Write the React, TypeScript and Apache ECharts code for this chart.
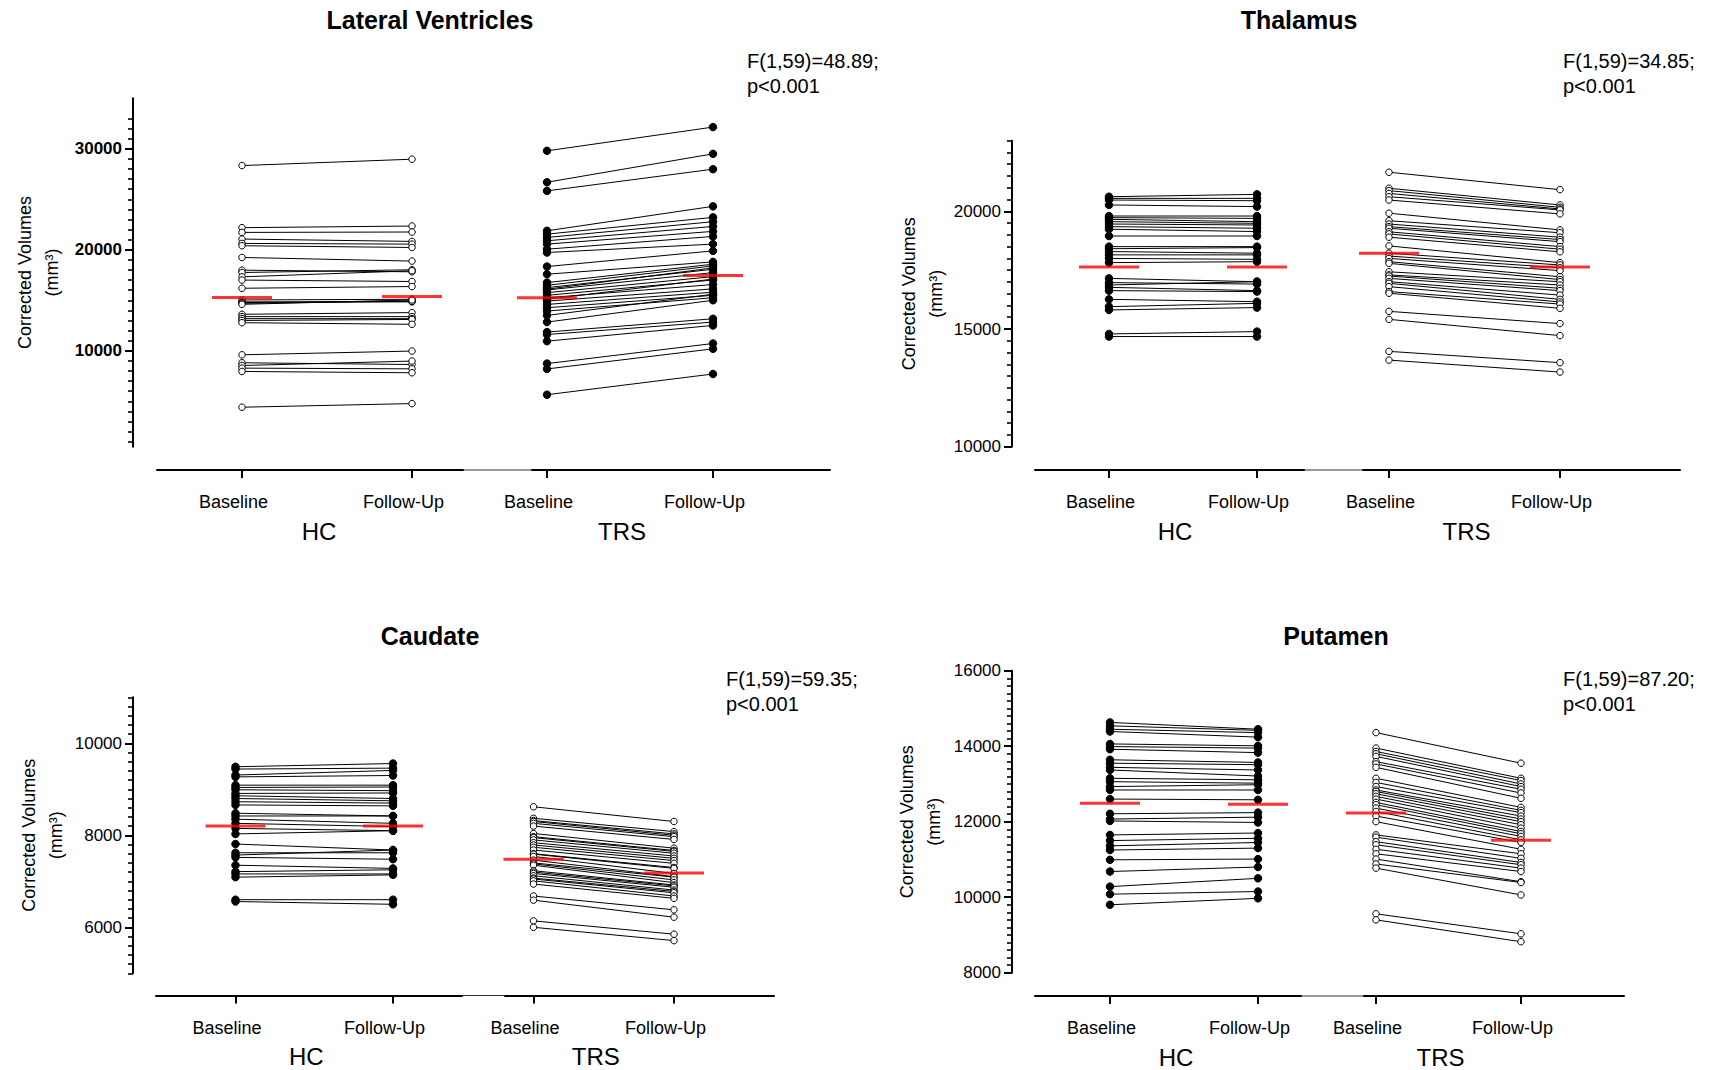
import React, { useEffect, useRef } from "react";
import * as echarts from "echarts";

const FONT = "'Liberation Sans', Arial, Helvetica, sans-serif";

const GROUPS = ["HC", "TRS"];
const TIMEPOINTS = ["Baseline", "Follow-Up"];
const Y_NAME = "Corrected Volumes\n(mm³)";

// ---------- Lateral Ventricles ----------
const LV_HC_BASE = [28340, 22190, 21720, 21060, 20630, 20400, 19240, 17980, 17750, 17320, 17000, 16190, 15030, 14840, 14770, 14700, 14600, 13610, 13380, 13180, 13000, 12780, 9600, 8810, 8540, 8280, 7950, 4410];
const LV_HC_FOLLOW = [28970, 22350, 21760, 20830, 20560, 20230, 18880, 17820, 18020, 17920, 16860, 16360, 15100, 14840, 14930, 14900, 15030, 13780, 13380, 13180, 13100, 12620, 9970, 8640, 8980, 8210, 7820, 4770];
const LV_TRS_BASE = [29800, 26690, 25830, 21880, 21550, 21220, 20890, 20560, 20060, 19730, 18340, 17580, 16750, 16480, 16250, 16100, 16020, 15750, 15490, 15250, 15100, 14920, 14590, 14260, 13930, 13500, 12840, 11850, 11610, 10950, 8730, 8200, 5650];
const LV_TRS_FOLLOW = [32150, 29500, 27980, 24300, 23210, 22780, 22310, 21820, 21320, 20560, 19890, 18800, 18570, 18400, 18070, 18200, 17740, 17340, 17010, 16560, 17100, 16130, 15800, 15490, 15250, 15600, 15000, 13170, 12840, 12510, 10720, 10190, 7700];
const LV_HC_MEAN = [15266, 15365];
const LV_TRS_MEAN = [15259, 17445];
const LV_TICKS = [10000, 20000, 30000];

// ---------- Thalamus ----------
const TH_HC_BASE = [20620, 20550, 20480, 20270, 19800, 19730, 19660, 19560, 19460, 19350, 19240, 18950, 18500, 18410, 18290, 18150, 18000, 17820, 17150, 16970, 16870, 16770, 16630, 16260, 15950, 15810, 14790, 14680];
const TH_HC_FOLLOW = [20720, 20550, 20450, 20200, 19800, 19700, 19560, 19490, 19420, 19280, 19140, 18950, 18500, 18460, 18220, 18150, 17960, 17860, 17010, 16910, 17010, 16630, 16590, 16160, 16090, 15910, 14890, 14680];
const TH_TRS_BASE = [21660, 20980, 20880, 20760, 20620, 20480, 19920, 19600, 19460, 19350, 19280, 19130, 19040, 18900, 18530, 18220, 18100, 18000, 17860, 17790, 17430, 17300, 17250, 17150, 17010, 16940, 16800, 16590, 16520, 15750, 15410, 14050, 13680];
const TH_TRS_FOLLOW = [20920, 20270, 20170, 20100, 20060, 19890, 19210, 19090, 18900, 18800, 18710, 18500, 18390, 18280, 17820, 17720, 17600, 17480, 17220, 17100, 17010, 16870, 16730, 16630, 16440, 16260, 16150, 16060, 15880, 15230, 14720, 13570, 13170];
const TH_HC_MEAN = [17635, 17635];
const TH_TRS_MEAN = [18216, 17634];
const TH_TICKS = [10000, 15000, 20000];

// ---------- Caudate ----------
const CA_HC_BASE = [9490, 9440, 9310, 9270, 9090, 9040, 8990, 8910, 8860, 8800, 8730, 8660, 8480, 8420, 8350, 8260, 8150, 8030, 7810, 7620, 7570, 7520, 7350, 7210, 7160, 7090, 6600, 6560];
const CA_HC_FOLLOW = [9560, 9460, 9410, 9300, 9090, 9050, 8970, 8920, 8800, 8750, 8700, 8640, 8420, 8420, 8260, 8190, 8100, 8100, 7680, 7620, 7680, 7480, 7280, 7250, 7160, 7140, 6600, 6500];
const CA_TRS_BASE = [8620, 8370, 8320, 8300, 8260, 8200, 8040, 7970, 7950, 7900, 7840, 7790, 7740, 7680, 7600, 7590, 7540, 7460, 7400, 7380, 7350, 7230, 7200, 7170, 7120, 7070, 7050, 7010, 6940, 6680, 6590, 6140, 6000];
const CA_TRS_FOLLOW = [8300, 8080, 8030, 8000, 7970, 7910, 7720, 7670, 7650, 7610, 7550, 7500, 7450, 7390, 7300, 7280, 7170, 7100, 7090, 7030, 6970, 6920, 6900, 6870, 6810, 6780, 6750, 6680, 6630, 6380, 6220, 5850, 5710];
const CA_HC_MEAN = [8203, 8203];
const CA_TRS_MEAN = [7477, 7180];
const CA_TICKS = [6000, 8000, 10000];

// ---------- Putamen ----------
const PU_HC_BASE = [14630, 14540, 14450, 14390, 14060, 13990, 13920, 13640, 13550, 13440, 13370, 13150, 13060, 12930, 12840, 12600, 12210, 12070, 12020, 11650, 11500, 11360, 11250, 10990, 10680, 10280, 10080, 9800];
const PU_HC_FOLLOW = [14450, 14420, 14360, 14240, 14010, 13950, 13830, 13570, 13510, 13370, 13210, 13110, 13020, 12980, 12840, 12580, 12240, 12120, 11980, 11700, 11560, 11450, 11300, 11010, 10800, 10500, 10150, 9970];
const PU_TRS_BASE = [14360, 13950, 13860, 13800, 13730, 13590, 13530, 13440, 13150, 13040, 12930, 12840, 12800, 12740, 12670, 12600, 12510, 12450, 12360, 12270, 12150, 12000, 11650, 11590, 11470, 11390, 11270, 11150, 11010, 10880, 10770, 9560, 9400];
const PU_TRS_FOLLOW = [13550, 13150, 13090, 13000, 12930, 12860, 12760, 12620, 12380, 12300, 12240, 12150, 12070, 12000, 11920, 11830, 11740, 11680, 11610, 11520, 11450, 11270, 11150, 11030, 10920, 10860, 10770, 10680, 10410, 10390, 10060, 9030, 8820];
const PU_HC_MEAN = [12490, 12464];
const PU_TRS_MEAN = [12233, 11510];
const PU_TICKS = [8000, 10000, 12000, 14000, 16000];

const TITLES = ["Lateral Ventricles", "Thalamus", "Caudate", "Putamen"];
const STATS = ["F(1,59)=48.89;", "F(1,59)=34.85;", "F(1,59)=59.35;", "F(1,59)=87.20;"];
const P_TEXT = "p<0.001";

// layout (pixels) for each panel
const PANELS = [
  {
    title: TITLES[0], stat: STATS[0], titleX: 430, titleY: 7, statX: 747, statY: 48,
    yMin: 500, yMax: 35000, ticks: LV_TICKS, minorStep: 1000, minorFrom: 1000, minorTo: 33000, bold: true,
    top: 98.3, bottom: 446.7, xLineY: 470, yAxisX: 133, nameGap: 68,
    hc: { s: 157, e: 463, t0: 242, t1: 412, base: LV_HC_BASE, follow: LV_HC_FOLLOW, mean: LV_HC_MEAN, filled: false },
    trs: { s: 532, e: 830, t0: 547, t1: 713, base: LV_TRS_BASE, follow: LV_TRS_FOLLOW, mean: LV_TRS_MEAN, filled: true },
  },
  {
    title: TITLES[1], stat: STATS[1], titleX: 1299, titleY: 7, statX: 1563, statY: 48,
    yMin: 10000, yMax: 23000, ticks: TH_TICKS, minorStep: 500, minorFrom: 10000, minorTo: 23000, bold: false,
    top: 140.7, bottom: 446.7, xLineY: 470, yAxisX: 1012, nameGap: 63,
    hc: { s: 1035, e: 1304, t0: 1109, t1: 1257, base: TH_HC_BASE, follow: TH_HC_FOLLOW, mean: TH_HC_MEAN, filled: true },
    trs: { s: 1363, e: 1680, t0: 1389, t1: 1560, base: TH_TRS_BASE, follow: TH_TRS_FOLLOW, mean: TH_TRS_MEAN, filled: false },
  },
  {
    title: TITLES[2], stat: STATS[2], titleX: 430, titleY: 623, statX: 726, statY: 666,
    yMin: 5000, yMax: 11000, ticks: CA_TICKS, minorStep: 200, minorFrom: 5000, minorTo: 11000, bold: false,
    top: 697.3, bottom: 973.3, xLineY: 995.5, yAxisX: 133, nameGap: 64,
    hc: { s: 156, e: 462, t0: 235.5, t1: 393, base: CA_HC_BASE, follow: CA_HC_FOLLOW, mean: CA_HC_MEAN, filled: true },
    trs: { s: 505, e: 774, t0: 533.5, t1: 674, base: CA_TRS_BASE, follow: CA_TRS_FOLLOW, mean: CA_TRS_MEAN, filled: false },
  },
  {
    title: TITLES[3], stat: STATS[3], titleX: 1336, titleY: 623, statX: 1563, statY: 666,
    yMin: 8000, yMax: 16000, ticks: PU_TICKS, minorStep: 200, minorFrom: 8000, minorTo: 16000, bold: false,
    top: 670.7, bottom: 972.7, xLineY: 996, yAxisX: 1012, nameGap: 65,
    hc: { s: 1035, e: 1301, t0: 1110, t1: 1258, base: PU_HC_BASE, follow: PU_HC_FOLLOW, mean: PU_HC_MEAN, filled: true },
    trs: { s: 1364, e: 1624, t0: 1376, t1: 1521, base: PU_TRS_BASE, follow: PU_TRS_FOLLOW, mean: PU_TRS_MEAN, filled: false },
  },
];

function steps(from: number, to: number, step: number): number[] {
  const out: number[] = [];
  for (let v = from; v <= to + 1e-6; v += step) out.push(Math.round(v));
  return out;
}

function buildOption(): any {
  const grid: any[] = [];
  const xAxis: any[] = [];
  const yAxis: any[] = [];
  const series: any[] = [];
  const title: any[] = [];
  const graphic: any[] = [];

  PANELS.forEach((p) => {
    title.push({
      text: p.title, left: p.titleX, top: p.titleY, textAlign: "center", padding: 0,
      textStyle: { fontFamily: FONT, fontSize: 25, fontWeight: "bold", color: "#000" },
    });
    title.push({
      text: p.stat + "\n" + P_TEXT, left: p.statX, top: p.statY, padding: 0,
      textStyle: { fontFamily: FONT, fontSize: 20, fontWeight: "normal", color: "#000", lineHeight: 25 },
    });
    graphic.push({
      type: "line", silent: true,
      shape: { x1: p.hc.e, y1: p.xLineY, x2: p.trs.s, y2: p.xLineY },
      style: { stroke: "#333", lineWidth: 1.2 },
    });

    [p.hc, p.trs].forEach((g, gi) => {
      const gridIndex = grid.length;
      grid.push({ left: g.s, width: g.e - g.s, top: p.top, height: p.bottom - p.top });
      const unit = g.t1 - g.t0;
      const nameCenter = (g.t0 + g.t1) / 2 - 8;
      const segCenter = (g.s + g.e) / 2;
      const d = nameCenter - segCenter;
      const xIndex = xAxis.length;
      xAxis.push({
        type: "value", gridIndex, position: "bottom", min: (g.s - g.t0) / unit, max: (g.e - g.t0) / unit,
        offset: p.xLineY - p.bottom,
        axisLine: { show: true, onZero: false, lineStyle: { color: "#000", width: 2 } },
        axisTick: { show: true, customValues: [0, 1], length: 8, lineStyle: { color: "#000", width: 2 } },
        axisLabel: {
          show: true, customValues: [0, 1], formatter: (v: number) => TIMEPOINTS[Math.round(v)],
          margin: 23, fontSize: 18, fontFamily: FONT, color: "#000", padding: [0, 17, 0, 0],
        },
        splitLine: { show: false },
        name: GROUPS[gi], nameLocation: "middle", nameGap: 49,
        nameTextStyle: {
          fontSize: 24, fontFamily: FONT, color: "#000",
          padding: d >= 0 ? [0, 0, 0, 2 * d] : [0, -2 * d, 0, 0],
        },
      });
      const yIndex = yAxis.length;
      const yBase = { type: "value", gridIndex, position: "left", min: p.yMin, max: p.yMax, splitLine: { show: false } };
      if (gi === 0) {
        yAxis.push({
          ...yBase, offset: g.s - p.yAxisX,
          axisLine: { show: true, onZero: false, lineStyle: { color: "#000", width: 2 } },
          axisTick: { show: true, customValues: p.ticks, length: 8, lineStyle: { color: "#000", width: 2 } },
          axisLabel: {
            show: true, customValues: p.ticks, formatter: (v: number) => String(v),
            margin: 11, fontSize: 17, fontWeight: p.bold ? "bold" : "normal", fontFamily: FONT, color: "#000",
          },
          name: Y_NAME, nameLocation: "middle", nameRotate: 90, nameGap: p.nameGap,
          nameTextStyle: { fontSize: 18, lineHeight: 27, fontFamily: FONT, color: "#000" },
        });
        yAxis.push({
          ...yBase, offset: g.s - p.yAxisX,
          axisLine: { show: false, onZero: false },
          axisTick: { show: true, customValues: steps(p.minorFrom, p.minorTo, p.minorStep), length: 5, lineStyle: { color: "#000", width: 1.6 } },
          axisLabel: { show: false },
        });
      } else {
        yAxis.push({ ...yBase, show: false, axisLine: { onZero: false } });
      }

      g.base.forEach((b: number, i: number) => {
        series.push({
          type: "line", xAxisIndex: xIndex, yAxisIndex: yIndex,
          data: [[0, b], [1, g.follow[i]]],
          symbol: "circle", symbolSize: g.filled ? 7.5 : 6.5, showSymbol: true,
          lineStyle: { color: "#000", width: 1 },
          itemStyle: { color: g.filled ? "#000" : "#fff", borderColor: "#000", borderWidth: 1 },
          silent: true, z: 2,
        });
      });
      series.push({
        type: "scatter", xAxisIndex: xIndex, yAxisIndex: yIndex,
        data: [[0, g.mean[0]], [1, g.mean[1]]],
        symbol: "rect", symbolSize: [60, 3], clip: false,
        itemStyle: { color: "#ff0000" }, silent: true, z: 5,
      });
    });
  });

  return { animation: false, backgroundColor: "#fff", title, grid, xAxis, yAxis, series, graphic };
}

export default function App() {
  const ref = useRef<HTMLDivElement>(null);
  useEffect(() => {
    if (!ref.current) return;
    const chart = echarts.init(ref.current, undefined, { renderer: "svg" });
    chart.setOption(buildOption());
    return () => chart.dispose();
  }, []);
  return (
    <div
      ref={ref}
      style={{ position: "absolute", left: 0, top: 0, width: 1711, height: 1070, background: "#fff" }}
    />
  );
}
